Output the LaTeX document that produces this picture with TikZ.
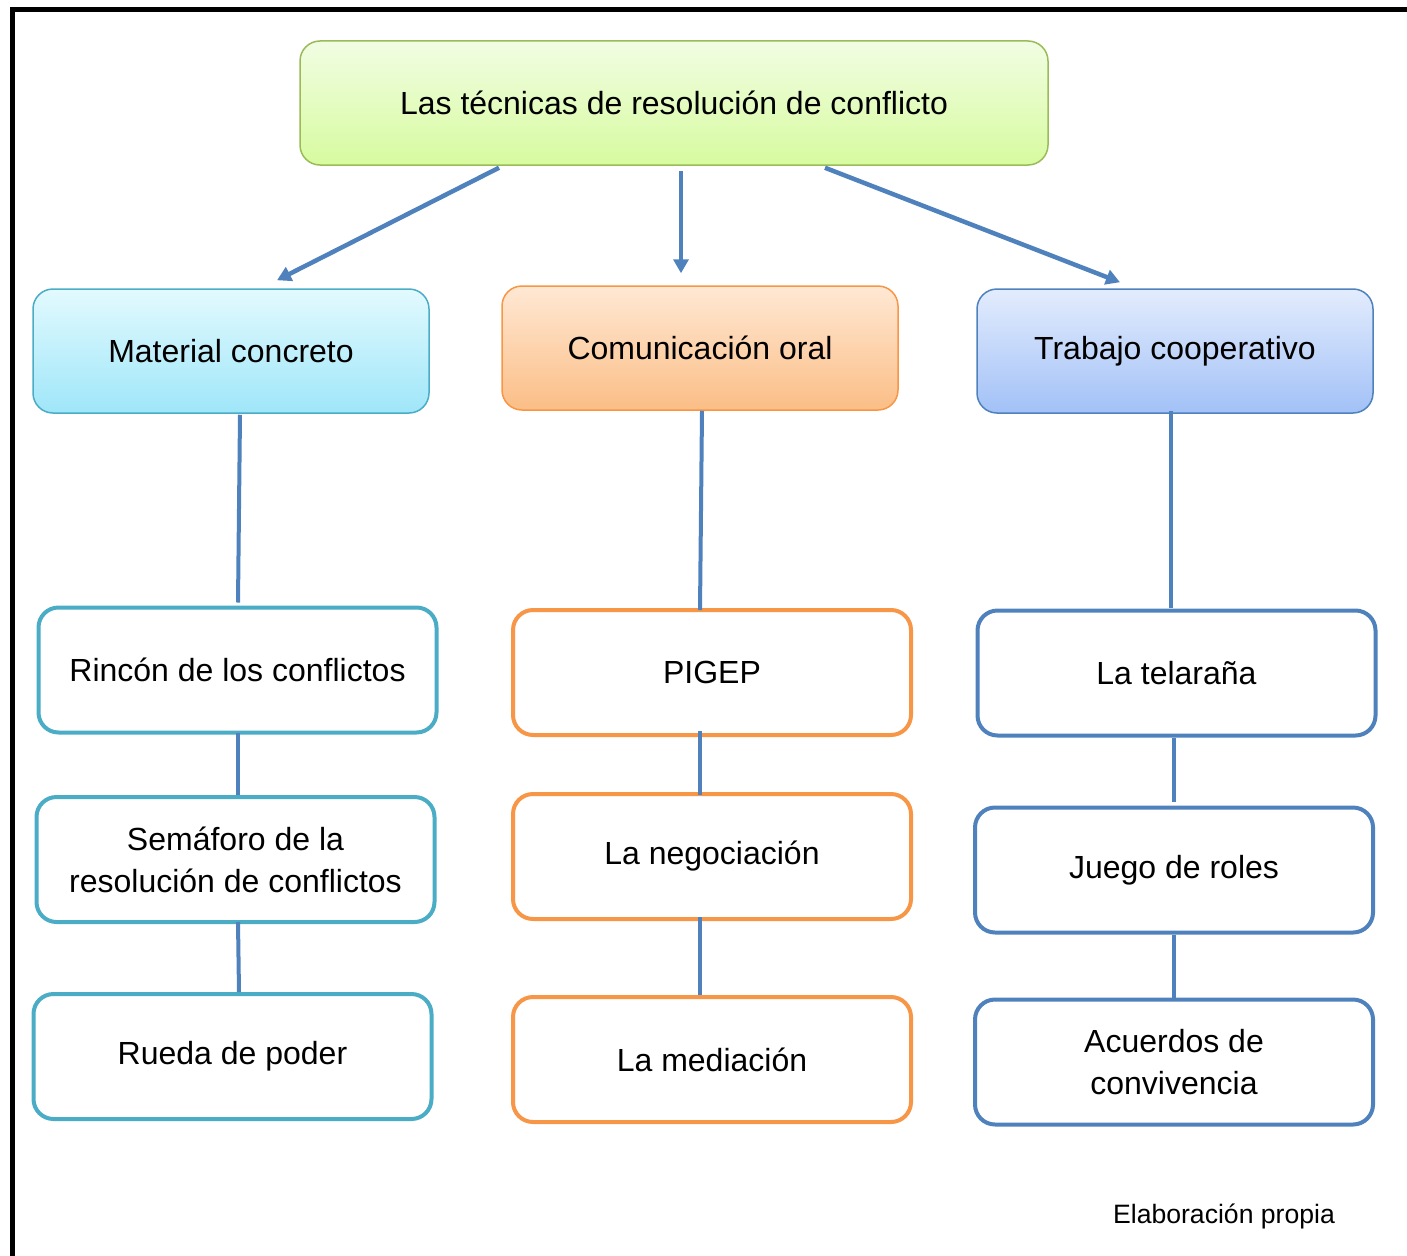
\documentclass[tikz,border=0pt]{standalone}
\usepackage{fontspec}
\setmainfont{Liberation Sans}
\usetikzlibrary{arrows.meta,calc}
\definecolor{linkblue}{HTML}{4F81BD}
\definecolor{greenedge}{HTML}{9BBB59}
\definecolor{greentop}{HTML}{F1FDE3}
\definecolor{greenbot}{HTML}{D7FB9F}
\definecolor{cyanedge}{HTML}{4BACC6}
\definecolor{cyantop}{HTML}{E2FAFE}
\definecolor{cyanbot}{HTML}{9FE6F9}
\definecolor{orangeedge}{HTML}{F79646}
\definecolor{orangetop}{HTML}{FFE8D4}
\definecolor{orangebot}{HTML}{FBBE86}
\definecolor{blueedge}{HTML}{4F81BD}
\definecolor{bluetop}{HTML}{E3ECFD}
\definecolor{bluebot}{HTML}{A2C1F7}
\tikzset{
  txt/.style={font=\fontsize{32}{42}\selectfont, align=center, text=black, inner sep=0pt},
  headbox/.style={txt, rounded corners=20pt, line width=1.5pt, minimum height=124pt},
  itembox/.style={txt, rounded corners=20pt, line width=4pt, fill=white, minimum width=398pt, minimum height=125pt},
  arr/.style={draw=linkblue, line width=4.5pt, -{Triangle[length=14pt,width=15pt]}},
  link/.style={draw=linkblue, line width=4pt}
}
\begin{document}
\begin{tikzpicture}[x=1pt,y=-1pt]
\useasboundingbox (0,0) rectangle (1407,1255);
\draw[line width=5pt] (12,1262) -- (12,10) -- (1412,10);

\node[headbox, draw=greenedge, top color=greentop, bottom color=greenbot, minimum width=748pt] (top) at (674,103) {Las técnicas de resolución de conflicto};

\node[headbox, draw=cyanedge, top color=cyantop, bottom color=cyanbot, minimum width=396pt] (mat) at (231,351) {Material concreto};
\node[headbox, draw=orangeedge, top color=orangetop, bottom color=orangebot, minimum width=396pt] (com) at (700,348) {Comunicación oral};
\node[headbox, draw=blueedge, top color=bluetop, bottom color=bluebot, minimum width=396pt] (tra) at (1175,351) {Trabajo cooperativo};

\node[itembox, draw=cyanedge] (rin) at (237.5,670) {Rincón de los conflictos};
\node[itembox, draw=cyanedge] (sem) at (235.5,859.5) {Semáforo de la\\resolución de conflictos};
\node[itembox, draw=cyanedge] (rue) at (232.5,1056.5) {Rueda de poder};

\node[itembox, draw=orangeedge] (pig) at (712,672.5) {PIGEP};
\node[itembox, draw=orangeedge] (neg) at (712,856.5) {La negociación};
\node[itembox, draw=orangeedge] (med) at (712,1059.5) {La mediación};

\node[itembox, draw=blueedge] (tel) at (1176.5,673) {La telaraña};
\node[itembox, draw=blueedge] (jue) at (1174,870) {Juego de roles};
\node[itembox, draw=blueedge] (acu) at (1174,1062) {Acuerdos de\\convivencia};

\draw[arr] ($(top.south)+(-175,2)$) -- ($(mat.north)+(46,-8)$);
\draw[arr] ($(top.south)+(7,5)$) -- ($(com.north)+(-19,-12)$);
\draw[arr] ($(top.south)+(151,2)$) -- ($(tra.north)+(-55,-6)$);

\draw[link] ($(mat.south)+(9,1)$) -- ($(rin.north)+(0.5,-3)$);
\draw[link] ($(com.south)+(2,0)$) -- ($(pig.north)+(-12,2)$);
\draw[link] ($(tra.south)+(-4,-3)$) -- ($(tel.north)+(-5.5,-1)$);

\draw[link] ($(rin.south)+(0.5,-2)$) -- ($(sem.north)+(2.5,0)$);
\draw[link] ($(sem.south)+(2.5,-2)$) -- ($(rue.north)+(6.5,0)$);
\draw[link] ($(pig.south)+(-12,-6)$) -- ($(neg.north)+(-12,3)$);
\draw[link] ($(neg.south)+(-12,-4)$) -- ($(med.north)+(-12,0)$);
\draw[link] ($(tel.south)+(-2.5,0)$) -- ($(jue.north)+(0,-4)$);
\draw[link] ($(jue.south)+(0,0)$) -- ($(acu.north)+(0,0)$);

\node[font=\fontsize{26.6}{32}\selectfont, inner sep=0pt] (src) at (1224,1216) {Elaboración propia};
\end{tikzpicture}
\end{document}
